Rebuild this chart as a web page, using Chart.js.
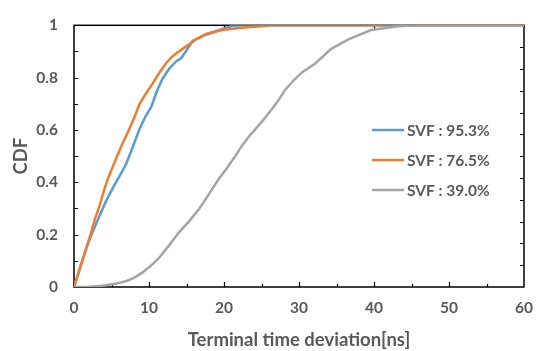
<!DOCTYPE html>
<html>
<head>
<meta charset="utf-8">
<script src="https://cdn.jsdelivr.net/npm/chart.js@4"></script>
<style>
  html, body { margin: 0; padding: 0; background: #fff; }
  #wrap { width: 545px; height: 351px; }
</style>
</head>
<body>
<div id="wrap"><canvas id="myChart" width="545" height="351"></canvas></div>
<script>
// CDF curves
const blueX   = [0, 1.1, 1.8, 2.34, 3.0, 3.6, 4.3, 5.4, 6.2, 6.98, 7.9, 8.74, 9.5, 10.3, 11.0, 11.8, 12.7, 13.6, 14.3, 14.9, 15.8, 16.25, 17.6, 19.7, 21.1, 22.5, 60]
const blueY   = [0, 0.1, 0.16, 0.2, 0.245, 0.285, 0.33, 0.39, 0.43, 0.472, 0.54, 0.604, 0.65, 0.688, 0.745, 0.796, 0.835, 0.862, 0.875, 0.9, 0.94, 0.946, 0.964, 0.985, 0.998, 1, 1]
const orangeX = [0, 1.1, 2.2, 2.8, 3.4, 3.9, 4.4, 5.1, 5.87, 6.5, 7.2, 8.0, 8.74, 9.6, 10.5, 11.4, 12.3, 13.0, 13.6, 15.4, 16.25, 17.6, 19.7, 22.0, 26.4, 60]
const orangeY = [0, 0.1, 0.2, 0.26, 0.31, 0.36, 0.405, 0.455, 0.508, 0.55, 0.592, 0.645, 0.7, 0.74, 0.778, 0.82, 0.856, 0.878, 0.892, 0.928, 0.946, 0.967, 0.982, 0.99, 1, 1]
const grayX   = [0, 2.0, 3.8, 5.5, 7.0, 8.0, 9.1, 10.2, 11.4, 12.7, 14.0, 15.3, 16.7, 18.0, 19.3, 20.4, 21.5, 22.4, 23.3, 25.0, 26.4, 27.3, 28.2, 29.3, 30.4, 32.2, 34.3, 36.6, 39.6, 43.2, 46, 60]
const grayY   = [0, 0.001, 0.005, 0.012, 0.023, 0.035, 0.055, 0.08, 0.113, 0.16, 0.209, 0.25, 0.299, 0.355, 0.413, 0.455, 0.5, 0.54, 0.574, 0.63, 0.68, 0.715, 0.755, 0.79, 0.82, 0.855, 0.91, 0.946, 0.982, 0.996, 1, 1]
const seriesNames = ["SVF : 95.3%", "SVF : 76.5%", "SVF : 39.0%"]
const seriesColors = ["#5B9BD5", "#ED7D31", "#A5A5A5"]
const xTicks = [0, 10, 20, 30, 40, 50, 60]
const yTicks = [0, 0.2, 0.4, 0.6, 0.8, 1]

const textColor = "#595959"
const fontFam = "Lato, 'Open Sans', sans-serif"

function toPoints(xs, ys) {
  return xs.map((x, i) => ({ x: x, y: ys[i] }))
}

// frame, inside tick marks and the in-plot legend
const framePlugin = {
  id: "frame",
  beforeDatasetsDraw(chart) {
    const { ctx, chartArea: a, scales } = chart
    ctx.save()
    ctx.strokeStyle = "#000"
    ctx.lineWidth = 1.5
    ctx.strokeRect(a.left, a.top, a.right - a.left, a.bottom - a.top)
    ctx.lineWidth = 1.2
    ctx.beginPath()
    // left axis ticks every 0.1
    for (let v = 0.1; v < 1; v += 0.1) {
      const y = Math.round(scales.y.getPixelForValue(v)) + 0.5
      ctx.moveTo(a.left, y); ctx.lineTo(a.left + 4, y)
    }
    // right side ticks, 12 divisions
    for (let i = 1; i < 12; i++) {
      const y = Math.round(a.bottom - (a.bottom - a.top) * i / 12) + 0.5
      ctx.moveTo(a.right, y); ctx.lineTo(a.right - 4, y)
    }
    // bottom ticks every 5
    for (let v = 5; v < 60; v += 5) {
      const x = Math.round(scales.x.getPixelForValue(v)) + 0.5
      ctx.moveTo(x, a.bottom); ctx.lineTo(x, a.bottom - (v % 10 === 0 ? 5 : 3))
    }
    // top ticks at thirds
    for (let i = 1; i < 3; i++) {
      const x = Math.round(a.left + (a.right - a.left) * i / 3) + 0.5
      ctx.moveTo(x, a.top); ctx.lineTo(x, a.top + 5)
    }
    ctx.stroke()
    ctx.restore()
  },
  afterDraw(chart) {
    const { ctx } = chart
    ctx.save()
    ctx.font = "bold 15.5px " + fontFam
    ctx.textBaseline = "middle"
    seriesNames.forEach((name, i) => {
      const y = 130 + i * 30
      ctx.strokeStyle = seriesColors[i]
      ctx.lineWidth = 2.5
      ctx.beginPath()
      ctx.moveTo(372, y); ctx.lineTo(404, y)
      ctx.stroke()
      ctx.fillStyle = textColor
      ctx.fillText(name, 407, y + 1)
    })
    ctx.restore()
  }
}

const ctx = document.getElementById("myChart")

new Chart(ctx, {
  type: "scatter",
  data: {
    datasets: [
      { label: seriesNames[0], data: toPoints(blueX, blueY), borderColor: seriesColors[0], order: 3 },
      { label: seriesNames[1], data: toPoints(orangeX, orangeY), borderColor: seriesColors[1], order: 2 },
      { label: seriesNames[2], data: toPoints(grayX, grayY), borderColor: seriesColors[2], order: 1 },
    ].map(d => Object.assign(d, { showLine: true, pointRadius: 0, borderWidth: 2.5, tension: 0, fill: false }))
  },
  options: {
    responsive: false,
    animation: false,
    layout: { padding: { top: 10, right: 18, left: 0, bottom: 0 } },
    plugins: { legend: { display: false }, tooltip: { enabled: false } },
    scales: {
      x: {
        type: "linear",
        min: 0, max: 60,
        afterBuildTicks: s => { s.ticks = xTicks.map(v => ({ value: v })) },
        afterFit: s => { s.height = 64 },
        grid: { display: false, drawTicks: false },
        border: { display: false },
        ticks: { padding: 12, color: textColor, font: { family: fontFam, size: 15.5, weight: "bold" } },
        title: {
          display: true, text: "Terminal time deviation[ns]", color: textColor,
          font: { family: fontFam, size: 18.5, weight: "bold" }, padding: { top: 0, bottom: 0 }
        }
      },
      y: {
        min: 0, max: 1,
        afterBuildTicks: s => { s.ticks = yTicks.map(v => ({ value: v })) },
        afterFit: s => { s.width = 74 },
        grid: { display: false, drawTicks: false },
        border: { display: false },
        ticks: {
          padding: 16, color: textColor, font: { family: fontFam, size: 15.5, weight: "bold" },
          callback: v => String(Number(v.toFixed(1)))
        },
        title: {
          display: true, text: "CDF", color: textColor,
          font: { family: fontFam, size: 18.5, weight: "bold" }, padding: { top: 10, bottom: 0 }
        }
      }
    }
  },
  plugins: [framePlugin]
})
</script>
</body>
</html>
